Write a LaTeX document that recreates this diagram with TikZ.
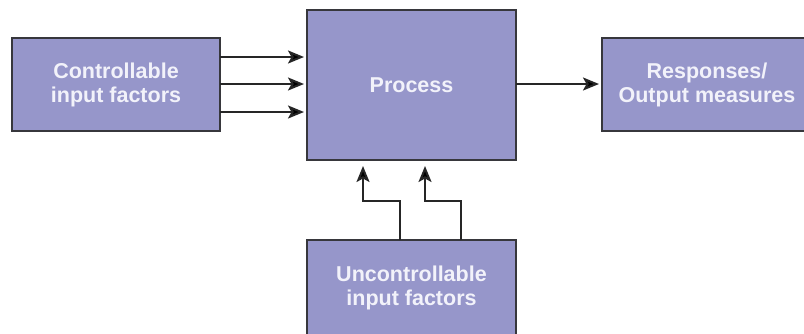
\documentclass[tikz,border=0pt]{standalone}
\usepackage{fontspec}
\setmainfont{Liberation Sans}
\usetikzlibrary{arrows.meta}
\definecolor{boxfill}{RGB}{150,150,202}
\definecolor{boxline}{RGB}{55,55,60}
\definecolor{boxtext}{RGB}{242,242,250}
\begin{document}
\begin{tikzpicture}[x=1pt,y=-1pt,
  block/.style={draw=boxline,line width=2pt,fill=boxfill,text=boxtext,
    font=\fontsize{21.5}{24}\selectfont\bfseries,align=center,
    inner sep=0pt,outer sep=0pt},
  arr/.style={draw=black!85,line width=2pt,
    -{Stealth[length=16pt,width=13pt,inset=3.5pt,fill=black]}}]
  \useasboundingbox (0,0) rectangle (804,333);
  \fill[white] (0,0) rectangle (804,333);

  % the four blocks
  \node[block,minimum width=208pt,minimum height=93pt] (ctrl) at (116,84.5)
    {Controllable\\input factors};
  \node[block,minimum width=209pt,minimum height=150pt] (proc) at (411.5,85)
    {Process};
  \node[block,minimum width=210pt,minimum height=93pt] (resp) at (707,84.5)
    {Responses/\\Output measures};
  \node[block,minimum width=209pt,minimum height=96pt] (unc) at (411.5,288)
    {Uncontrollable\\input factors};

  % controllable inputs into the process
  \foreach \yy in {57,84,112}
    \draw[arr,shorten >=3pt] (ctrl.east |- 0,\yy) -- (proc.west |- 0,\yy);

  % process output
  \draw[arr,shorten >=3pt] (proc.east |- 0,84) -- (resp.west |- 0,84);

  % uncontrollable inputs, stepped up into the process
  \coordinate (u1) at (400,201);
  \coordinate (u2) at (461,201);
  \draw[arr,shorten >=6pt] (unc.north -| u1) -- (u1) -- (363,201) -- (proc.south -| 363,0);
  \draw[arr,shorten >=6pt] (unc.north -| u2) -- (u2) -- (425,201) -- (proc.south -| 425,0);
\end{tikzpicture}
\end{document}
